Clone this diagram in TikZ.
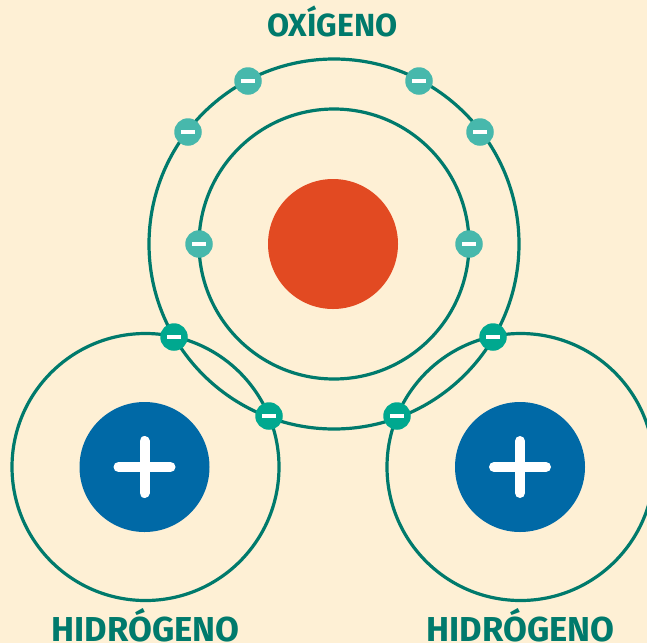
\documentclass[tikz,border=0pt]{standalone}
\usepackage{fontspec}
\setmainfont{Fira Sans}
\definecolor{bgc}{HTML}{FEF0D5}
\definecolor{orbit}{HTML}{007A6C}
\definecolor{eout}{HTML}{47B8AC}
\definecolor{eshare}{HTML}{00A88F}
\definecolor{nucO}{HTML}{E24A22}
\definecolor{nucH}{HTML}{0069A6}
\tikzset{x=1pt,y=-1pt,
 orbitline/.style={draw=orbit,line width=3.2pt,circle,inner sep=0pt,minimum size=#1},
 nucleus/.style={circle,inner sep=0pt,minimum size=#1},
 eouter/.style={circle,fill=eout,inner sep=0pt,minimum size=27.5},
 eshared/.style={circle,fill=eshare,inner sep=0pt,minimum size=27.5},
 title/.style={font=\bfseries\fontsize{#1}{36}\selectfont,text=orbit,inner sep=0pt,anchor=base}}
\newcommand{\emin}[1]{\draw[white,line width=3.4pt] ([xshift=-7pt]#1.center) -- ([xshift=7pt]#1.center);}
\begin{document}
\begin{tikzpicture}
\fill[bgc] (0,0) rectangle (647,643);
\useasboundingbox (0,0) rectangle (647,643);
\node[orbitline=370] (oo) at (334,244) {};
\node[orbitline=270] (oi) at (334,244) {};
\node[orbitline=267] (hl) at (145.5,467) {};
\node[orbitline=267] (hr) at (520.5,467) {};
\node[nucleus=130,fill=nucO] (no) at (333,244) {};
\node[nucleus=130,fill=nucH] (nl) at (144.5,467) {};
\node[nucleus=130,fill=nucH] (nr) at (520,467) {};
\foreach \n/\x/\y in {a/248/81,b/419/81,c/188/132,d/480/132,e/199/244,f/469/244}{
 \node[eouter] (\n) at (\x,\y) {}; \emin{\n}}
\foreach \n/\x/\y in {g/174/337,h/493/337,i/269/416,j/397/416}{
 \node[eshared] (\n) at (\x,\y) {}; \emin{\n}}
\foreach \n in {nl,nr}{
 \draw[white,line width=10pt,line cap=round] ([xshift=-26pt]\n.center) -- ([xshift=26pt]\n.center);
 \draw[white,line width=10pt,line cap=round] ([yshift=-26pt]\n.center) -- ([yshift=26pt]\n.center);}
\node[title=32] (to) at (332.5,36.5) {OXÍGENO};
\node[title=34.6] (tl) at (145.5,641) {HIDRÓGENO};
\node[title=34.6] (tr) at (520.5,641) {HIDRÓGENO};
\end{tikzpicture}
\end{document}
